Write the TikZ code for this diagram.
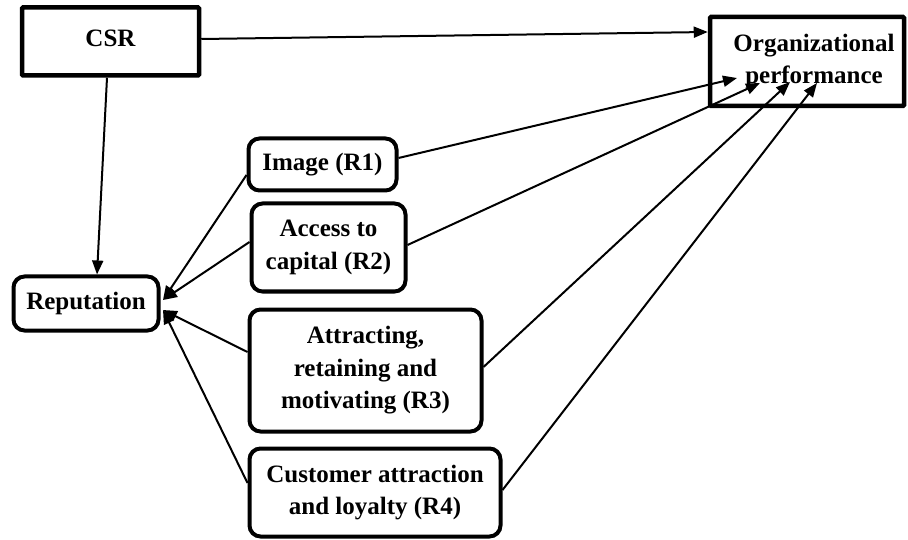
\documentclass[tikz,border=0pt]{standalone}
\usepackage{fontspec}
\setmainfont{Liberation Serif}
\usetikzlibrary{arrows.meta}
\tikzset{
  sqbox/.style={draw, line width=4.5pt, rounded corners=1pt, inner sep=0pt, align=center, font=\fontsize{25}{32.5}\selectfont\bfseries},
  rbox/.style={draw, line width=4pt, rounded corners=11pt, inner sep=0pt, align=center, font=\fontsize{25}{32.5}\selectfont\bfseries},
  conn/.style={line width=2pt, -{Triangle[length=14pt,width=11pt]}},
}
\begin{document}
\begin{tikzpicture}[x=1pt,y=-1pt]
\useasboundingbox (0,0) rectangle (908,540);
\node[sqbox, minimum width=177pt, minimum height=68pt] (csr) at (110.5,41.5) {\raisebox{7pt}{CSR}};
\node[sqbox, minimum width=194pt, minimum height=89pt] (org) at (807,61.5) {\hspace*{14pt}Organizational\\\hspace*{14pt}performance};
\node[rbox, minimum width=145pt, minimum height=54pt] (rep) at (86,303.5) {Reputation};
\node[rbox, minimum width=148pt, minimum height=52pt] (r1) at (322.5,164.5) {Image (R1)};
\node[rbox, minimum width=154pt, minimum height=88pt] (r2) at (328.5,247.5) {Access to\\capital (R2)};
\node[rbox, minimum width=232pt, minimum height=122pt] (r3) at (365.5,370.5) {Attracting,\\retaining and\\motivating (R3)};
\node[rbox, minimum width=251pt, minimum height=88pt] (r4) at (375,492.5) {Customer attraction\\and loyalty (R4)};
\coordinate (repA) at (163,300);
\coordinate (repB) at (163,310);
\coordinate (orgA) at (737,78);
\coordinate (orgB) at (760,83);
\coordinate (orgC) at (790,82);
\coordinate (orgD) at (817,83);
\draw[conn] ([yshift=2.5pt]csr.east) -- ([yshift=29.5pt]org.west);
\draw[conn] ([xshift=-3.5pt]csr.south) -- ([xshift=11pt]rep.north);
\draw[conn] ([yshift=-10.5pt]r1.west) -- (repA);
\draw[conn] ([yshift=5.5pt]r2.west) -- (repA);
\draw[conn] ([yshift=18.5pt]r3.west) -- (repB);
\draw[conn] ([yshift=9.5pt]r4.west) -- (repB);
\draw[conn] ([yshift=6.5pt]r1.east) -- (orgA);
\draw[conn] ([yshift=2.5pt]r2.east) -- (orgB);
\draw[conn] ([yshift=3.5pt]r3.east) -- (orgC);
\draw[conn] ([yshift=2.5pt]r4.east) -- (orgD);
\end{tikzpicture}
\end{document}
